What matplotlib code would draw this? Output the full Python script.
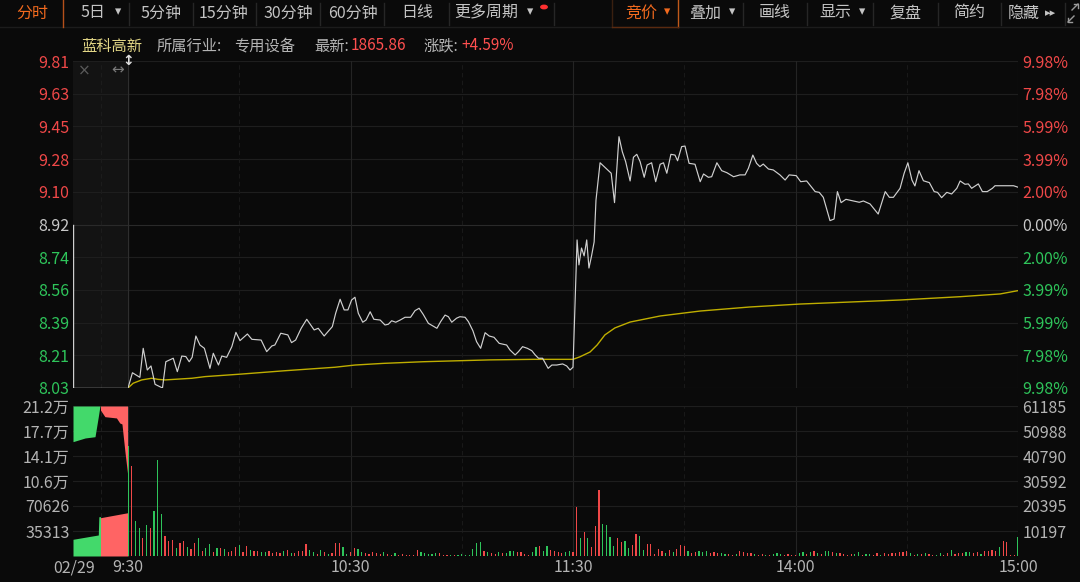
import matplotlib.pyplot as plt
import numpy as np
from matplotlib.lines import Line2D
from matplotlib.patches import Circle

plt.rcParams['font.family'] = ['Noto Sans CJK SC', 'DejaVu Sans']

# ---------------- data ----------------
price_labels = ['9.81', '9.63', '9.45', '9.28', '9.10', '8.92', '8.74', '8.56', '8.39', '8.21', '8.03']
pct_labels = ['9.98%', '7.98%', '5.99%', '3.99%', '2.00%', '0.00%', '2.00%', '3.99%', '5.99%', '7.98%', '9.98%']
vol_left_labels = ['21.2万', '17.7万', '14.1万', '10.6万', '70626', '35313']
vol_right_labels = ['61185', '50988', '40790', '30592', '20395', '10197']
time_labels = ['02/29', '9:30', '10:30', '11:30', '14:00', '15:00']
time_minutes = [None, 0, 60, 120, 180, 240]

# (minute from 9:30, price)
price_pts = [
    (0, 8.03), (1.2, 8.113), (3.2, 8.088), (4.1, 8.246), (5.2, 8.128), (6.2, 8.150), (7.3, 8.050),
    (9.3, 8.030), (10.2, 8.173), (12.2, 8.192), (13.3, 8.119), (14.5, 8.204), (15.6, 8.201),
    (16.5, 8.173), (17.3, 8.197), (18.3, 8.313), (19.4, 8.264), (20.6, 8.246), (22.1, 8.137),
    (23.0, 8.219), (24.4, 8.155), (25.3, 8.204), (26.6, 8.197), (28.0, 8.255), (29.1, 8.333),
    (30.2, 8.288), (32.2, 8.324), (33.4, 8.295), (35.9, 8.291), (37.4, 8.228), (38.8, 8.259),
    (39.6, 8.264), (41.2, 8.328), (43.1, 8.319), (44.1, 8.277), (45.2, 8.291), (46.7, 8.355),
    (48.2, 8.404), (50.2, 8.346), (51.3, 8.355), (52.9, 8.313), (55.1, 8.364), (56.0, 8.437),
    (57.2, 8.513), (58.3, 8.455), (59.3, 8.455), (60.3, 8.509), (61.2, 8.524), (62.1, 8.437),
    (63.3, 8.388), (64.2, 8.400), (65.3, 8.445), (66.3, 8.404), (68.0, 8.400), (69.3, 8.373),
    (70.2, 8.377), (71.1, 8.396), (72.2, 8.388), (73.4, 8.400), (74.7, 8.415), (76.2, 8.415),
    (77.4, 8.451), (78.5, 8.464), (79.6, 8.431), (81.0, 8.382), (83.3, 8.355), (84.3, 8.391),
    (85.5, 8.427), (86.4, 8.418), (87.3, 8.388), (88.6, 8.410), (89.5, 8.418), (90.9, 8.415),
    (91.8, 8.391), (93.0, 8.342), (94.0, 8.282), (95.1, 8.246), (96.3, 8.331), (97.4, 8.313),
    (98.7, 8.306), (100.1, 8.273), (102.1, 8.264), (103.0, 8.237), (104.4, 8.210), (105.3, 8.228),
    (106.4, 8.255), (107.7, 8.246), (108.9, 8.233), (109.8, 8.210), (110.7, 8.192), (111.8, 8.192),
    (113.3, 8.137), (114.3, 8.155), (115.6, 8.155), (117.2, 8.161), (118.3, 8.150), (119.2, 8.128),
    (120.0, 8.143), (121.1, 8.836), (121.6, 8.700), (122.3, 8.792), (123.0, 8.749), (123.7, 8.836),
    (124.3, 8.683), (125.0, 8.749), (125.7, 8.825), (126.2, 9.053), (127.3, 9.256), (130.3, 9.199),
    (131.2, 9.039), (132.4, 9.398), (133.3, 9.316), (134.2, 9.262), (135.4, 9.157), (136.3, 9.286),
    (137.2, 9.302), (138.1, 9.262), (139.2, 9.177), (140.0, 9.244), (141.2, 9.256), (142.3, 9.153),
    (143.5, 9.248), (144.4, 9.256), (145.3, 9.199), (146.4, 9.302), (147.5, 9.298), (148.2, 9.267),
    (149.3, 9.344), (150.2, 9.347), (151.3, 9.253), (152.9, 9.248), (154.3, 9.153), (155.2, 9.195),
    (156.5, 9.177), (157.4, 9.180), (158.8, 9.256), (160.1, 9.213), (161.5, 9.202), (163.3, 9.180),
    (165.0, 9.190), (166.4, 9.190), (167.3, 9.226), (168.5, 9.298), (169.5, 9.253), (170.4, 9.235),
    (171.3, 9.249), (172.7, 9.222), (174.0, 9.217), (175.8, 9.190), (177.2, 9.162), (178.3, 9.190),
    (180.2, 9.186), (181.4, 9.153), (183.0, 9.157), (185.3, 9.099), (186.4, 9.095), (187.5, 9.068),
    (189.3, 8.941), (190.4, 8.950), (191.3, 9.099), (192.3, 9.039), (193.6, 9.057), (195.6, 9.048),
    (197.2, 9.041), (198.3, 9.048), (200.1, 9.032), (202.3, 8.977), (204.2, 9.099), (205.3, 9.068),
    (206.4, 9.068), (208.2, 9.117), (209.3, 9.199), (210.3, 9.256), (211.4, 9.162), (212.2, 9.130),
    (213.3, 9.213), (214.5, 9.158), (216.1, 9.148), (217.4, 9.099), (218.3, 9.095), (219.4, 9.066),
    (220.8, 9.095), (222.1, 9.086), (223.5, 9.117), (224.4, 9.157), (225.7, 9.139), (226.6, 9.141),
    (227.5, 9.117), (229.3, 9.141), (230.4, 9.099), (231.7, 9.099), (233.1, 9.117), (233.8, 9.131),
    (238.8, 9.131), (240.0, 9.123),
]

avg_pts = [
    (0, 8.030), (1.4, 8.056), (3.7, 8.074), (6.4, 8.083), (8.1, 8.077), (10.0, 8.074),
    (17.2, 8.083), (20.8, 8.092), (30.7, 8.106), (42.3, 8.124), (55.8, 8.143), (61.2, 8.155),
    (68.8, 8.164), (79.6, 8.173), (90.3, 8.179), (97.6, 8.183), (109.2, 8.186), (120.0, 8.186),
    (121.9, 8.200), (124.6, 8.226), (126.5, 8.264), (128.6, 8.319), (131.3, 8.357), (135.4, 8.389),
    (143.5, 8.422), (154.3, 8.449), (167.7, 8.471), (181.2, 8.487), (194.7, 8.498), (208.2, 8.509),
    (224.4, 8.527), (235.2, 8.542), (240.0, 8.560),
]

# call auction (minutes from 9:15)
auction_price_t = [0, 0, 10]
auction_price_v = [8.92, 8.03, 8.03]
green_top_t = [0, 2.2, 4.0, 4.6, 4.9, 5.0]
green_top_v = [161500, 166700, 168500, 196800, 211878, 211878]
green_bot_t = [0, 4.6, 4.7, 5.0]
green_bot_v = [23600, 29700, 55500, 55500]
red_top_t = [5.0, 5.8, 7.9, 8.5, 8.9, 9.45, 9.95, 10.0]
red_top_v = [206000, 196800, 195000, 187900, 186500, 146900, 114400, 110000]
red_bot_t = [5.0, 10.0]
red_bot_v = [54100, 61200]

volume = [
    45000, 36900, 14200, 11600, 7400, 12500, 11600, 18300, 39000, 17100,
    8300, 6100, 6600, 3300, 5400, 6100, 3600, 2900, 5400, 7200,
    2200, 3300, 5000, 1500, 3300, 3300, 2900, 1500, 2200, 3600,
    4300, 1500, 3900, 2600, 2200, 2200, 1500, 1800, 2200, 1200,
    1500, 1200, 2200, 2600, 1200, 1200, 2200, 2200, 5000, 2600,
    1500, 800, 2600, 1500, 800, 1200, 5400, 5400, 3600, 800,
    1800, 3300, 2900, 1500, 1200, 800, 1500, 1200, 800, 1800,
    800, 600, 1200, 600, 800, 600, 600, 600, 2600, 1500,
    1200, 800, 800, 1200, 1200, 600, 600, 400, 400, 400,
    800, 400, 400, 2900, 5400, 5600, 2200, 1500, 1100, 800,
    1500, 1200, 1200, 2200, 2200, 1800, 1500, 800, 400, 1800,
    3600, 3900, 2200, 4000, 2500, 2200, 1500, 1100, 1500, 1900,
    1500, 20100, 7400, 9800, 7400, 3600, 12100, 27000, 13000, 12500,
    7700, 3900, 7400, 5600, 6300, 3200, 4300, 8800, 8000, 2600,
    4700, 4700, 800, 2900, 1900, 1100, 2500, 1500, 2900, 4300,
    4000, 1900, 1200, 1500, 1900, 1500, 1900, 1100, 1500, 1100,
    1100, 800, 800, 600, 800, 1900, 1500, 1200, 1100, 800,
    600, 800, 600, 600, 800, 1100, 800, 600, 800, 600,
    600, 1100, 1500, 800, 1500, 1900, 1100, 800, 2200, 1900,
    1500, 1100, 1100, 800, 600, 800, 800, 1500, 600, 800,
    800, 600, 1100, 600, 1200, 800, 1200, 1100, 1500, 1500,
    1900, 1100, 600, 800, 800, 1200, 800, 600, 600, 1100,
    600, 1100, 2600, 800, 1200, 1100, 1500, 1500, 1100, 1500,
    800, 2200, 2200, 2500, 1900, 3600, 6300, 5600, 600, 400,
    7800,
]
# r = up (red), g = down (green)
vol_dir = ("grggrgrggg" "rrrgrrgrrg" "rggrgrgrrr" "grrgrrggrr" "rrgrgrrrrg"
           "grgrgrrrgg" "rrggrrrrrg" "rrgrrrrrrg" "ggggrrrgrg" "ggggggrgrr"
           "grgggrrrrg" "grggrrrrgg" "rrgrgrrrgg" "ggrrggrrgg" "rrrrrgrgrr"
           "rgrrgggrrr" "ggrrgrrrrg" "rrgrgggrrr" "rggrgrgrgg" "rgrrrrggrg"
           "grrgrrrrrr" "rgrgrgrrgg" "rrgrrrggrr" "grrrrgrrrr" "g")

# ---------------- style ----------------
W, H = 1080, 582
BG = '#0a0a0a'
GRID = '#1e1e1e'
RED = '#f04848'
GREEN = '#2ec45a'
GREY = '#b4b4b4'


def fx(x):
    return x / W


def fy(y):
    return 1 - y / H


fig = plt.figure(figsize=(W / 100, H / 100), dpi=100, facecolor=BG)

ax_auc = fig.add_axes([fx(73), fy(388), 55 / W, 327 / H])
ax_p = fig.add_axes([fx(128), fy(388), 890 / W, 327 / H])
ax_av = fig.add_axes([fx(73), fy(556), 55 / W, 150 / H])
ax_v = fig.add_axes([fx(128), fy(556), 890 / W, 150 / H])

for ax in (ax_auc, ax_p, ax_av, ax_v):
    ax.set_facecolor(BG)
    for s in ax.spines.values():
        s.set_visible(False)
    ax.tick_params(length=0)
    ax.set_xticks([])
ax_auc.set_facecolor('#131313')

# price scale
p_hi, p_lo = float(price_labels[0]), float(price_labels[-1])
p_ticks = np.linspace(p_hi, p_lo, len(price_labels))
for ax in (ax_auc, ax_p):
    ax.set_ylim(p_lo, p_hi)
    for i, t in enumerate(p_ticks):
        ax.axhline(t, color='#2a2a2a' if i == 5 else GRID, lw=0.8, zorder=0)
ax_auc.set_xlim(0, 10)
ax_p.set_xlim(0, 240)

ax_auc.set_yticks(p_ticks, price_labels, fontsize=11.5)
ax_auc.tick_params(axis='y', pad=2.5)
ax_p.yaxis.tick_right()
ax_p.set_yticks(p_ticks, pct_labels, fontsize=11.5)
ax_p.tick_params(axis='y', pad=3)
for labels in (ax_auc.get_yticklabels(), ax_p.get_yticklabels()):
    for i, lab in enumerate(labels):
        lab.set_color(RED if i < 5 else ('#c8c8c8' if i == 5 else GREEN))

# vertical grid
for ax in (ax_p, ax_v):
    for m in (30, 90, 150, 210):
        ax.axvline(m, color='#191919', lw=0.8, ls=(0, (4, 3)), zorder=0)
    for m in (60, 120, 180):
        ax.axvline(m, color='#242424', lw=0.8, zorder=0)
    ax.axvline(0.1, color='#2e2e2e', lw=0.9, zorder=0)
    ax.axvline(239.9, color='#242424', lw=0.8, zorder=0)
for ax in (ax_auc, ax_av):
    ax.axvline(5, color='#1c1c1c', lw=0.8, ls=(0, (4, 3)), zorder=0)

# price lines
pt, pv = zip(*price_pts)
ax_p.plot(pt, pv, color='#d0d0d0', lw=0.85, zorder=3)
at, av = zip(*avg_pts)
ax_p.plot(at, av, color='#bfae00', lw=1.0, zorder=2)
ax_auc.plot(auction_price_t, auction_price_v, color='#cfcfcf', lw=1.0, zorder=3)

# volume
vmax_main = float(vol_right_labels[0])
vmax_auc = 211878
ax_v.set_ylim(0, vmax_main)
ax_v.set_xlim(0, 240)
ax_av.set_ylim(0, vmax_auc)
ax_av.set_xlim(0, 10)
v_ticks = np.linspace(vmax_main, vmax_main / 6, 6)
va_ticks = np.linspace(vmax_auc, vmax_auc / 6, 6)
for t in v_ticks:
    ax_v.axhline(t, color=GRID, lw=0.8, zorder=0)
    ax_av.axhline(t * vmax_auc / vmax_main, color=GRID, lw=0.8, zorder=0)
ax_v.axhline(0, color='#242424', lw=0.8)
ax_av.axhline(0, color='#242424', lw=0.8)

ax_v.yaxis.tick_right()
ax_v.set_yticks(v_ticks, vol_right_labels, fontsize=11.5, color=GREY)
ax_v.tick_params(axis='y', pad=3)
ax_av.set_yticks(va_ticks, vol_left_labels, fontsize=11.5, color=GREY)
ax_av.tick_params(axis='y', pad=2.5)

colors = [RED if d == 'r' else GREEN for d in vol_dir]
ax_v.bar(np.arange(len(volume)), volume, width=0.32, color=colors, linewidth=0, zorder=3)

AUC_G, AUC_R = '#43d96b', '#ff6464'
ax_av.fill_between(green_top_t, green_top_v, vmax_auc, color=AUC_G, lw=0, zorder=2)
ax_av.fill_between(green_bot_t, 0, green_bot_v, color=AUC_G, lw=0, zorder=2)
ax_av.fill_between(red_top_t, red_top_v, vmax_auc, color=AUC_R, lw=0, zorder=2)
ax_av.fill_between(red_bot_t, 0, red_bot_v, color=AUC_R, lw=0, zorder=2)

# time axis labels
for lab, m in zip(time_labels, time_minutes):
    x = 74 if m is None else 128 + m * 890 / 240
    fig.text(fx(x), fy(568), lab, ha='center', va='center', fontsize=11.5, color=GREY)

# auction overlay icons
fig.text(fx(84), fy(71), '×', ha='center', va='center', fontsize=11, color='#5a5a5a', family='DejaVu Sans')
fig.text(fx(118), fy(70), '↔', ha='center', va='center', fontsize=11, color='#7a7a7a', family='DejaVu Sans')
fig.text(fx(128), fy(61), '↕', ha='center', va='center', fontsize=10, color='#e0e0e0',
         fontweight='bold', family='DejaVu Sans')

# header line
hdr = [(81, '蓝科高新', '#e2d686'), (157, '所属行业:', GREY), (234, '专用设备', GREY),
       (314, '最新:', GREY), (351, '1865.86', '#ff4f4f'), (423, '涨跌:', GREY), (461, '+4.59%', '#ff4f4f')]
for x, s, c in hdr:
    fig.text(fx(x), fy(46), s, ha='left', va='center', fontsize=11, color=c)

# toolbar
fig.add_artist(Line2D([0, 1], [fy(27), fy(27)], color='#1c1c1c', lw=1))
tabs = [(32, '分时', '#f26a1e'), (93, '5日', '#c4c4c4'), (161, '5分钟', '#c4c4c4'),
        (224, '15分钟', '#c4c4c4'), (288, '30分钟', '#c4c4c4'), (353, '60分钟', '#c4c4c4'),
        (417, '日线', '#c4c4c4'), (486, '更多周期', '#c4c4c4'),
        (641, '竞价', '#f26a1e'), (705, '叠加', '#c4c4c4'), (775, '画线', '#c4c4c4'),
        (835, '显示', '#c4c4c4'), (905, '复盘', '#c4c4c4'), (969, '简约', '#c4c4c4'),
        (1024, '隐藏', '#c4c4c4')]
for x, s, c in tabs:
    fig.text(fx(x), fy(13), s, ha='center', va='center', fontsize=11.5, color=c)
for x, c in [(118, '#c4c4c4'), (530, '#c4c4c4'), (667, '#f26a1e'), (732, '#c4c4c4'), (862, '#c4c4c4')]:
    fig.text(fx(x), fy(12), '▾', ha='center', va='center', fontsize=9, color=c, family='DejaVu Sans')
fig.text(fx(1051), fy(13), '▸▸', ha='center', va='center', fontsize=8, color='#c4c4c4', family='DejaVu Sans')
# expand icon (two diagonal arrows), drawn as a shape
for (x0, y0), (x1, y1) in [((1072, 10), (1078, 4)), ((1074, 16), (1068, 22))]:
    fig.add_artist(Line2D([fx(x0), fx(x1)], [fy(y0), fy(y1)], color='#9a9a9a', lw=1))
    fig.add_artist(Line2D([fx(x1 - 4 * np.sign(x1 - x0)), fx(x1), fx(x1)],
                          [fy(y1), fy(y1), fy(y1 - 4 * np.sign(y1 - y0))], color='#9a9a9a', lw=1))
fig.add_artist(Circle((fx(544), fy(7)), 3.2 / W, color='#ff3030',
                      transform=fig.transFigure))
for x in (129, 193, 256, 320, 384, 449, 554, 743, 807, 873, 938, 1001, 1065):
    fig.add_artist(Line2D([fx(x), fx(x)], [fy(3), fy(25)], color='#262626', lw=1))
fig.add_artist(Line2D([fx(63), fx(63)], [fy(0), fy(27)], color='#b5501a', lw=1))
fig.add_artist(Line2D([fx(612), fx(612)], [fy(0), fy(27)], color='#3a2010', lw=1))
fig.add_artist(Line2D([fx(678), fx(678)], [fy(0), fy(27)], color='#c05a1a', lw=1))
fig.add_artist(Line2D([fx(612), fx(678)], [fy(26.5), fy(26.5)], color='#5a2a10', lw=1))

fig.savefig('out.png', dpi=100, facecolor=BG)
